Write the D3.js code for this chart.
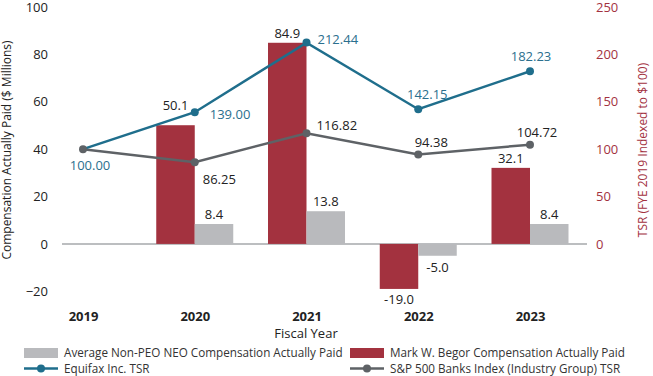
<!DOCTYPE html>
<html><head><meta charset="utf-8">
<script src="https://cdn.jsdelivr.net/npm/d3@7/dist/d3.min.js"></script>
<style>body{margin:0;background:#fff}svg{display:block;font-family:"Open Sans",sans-serif}</style>
</head><body><svg id="c" width="653" height="376"></svg>
<script>
const years = ["2019","2020","2021","2022","2023"];
const begorCAP = [null, 50.1, 84.9, -19.0, 32.1];
const neoCAP = [null, 8.4, 13.8, -5.0, 8.4];
const equifaxTSR = [100.00, 139.00, 212.44, 142.15, 182.23];
const banksTSR = [100.00, 86.25, 116.82, 94.38, 104.72];
const leftTicks = [-20, 0, 20, 40, 60, 80, 100];
const rightTicks = [0, 50, 100, 150, 200, 250];
// label placements (offsets from point)
const eqLabelPos = [[7,21,"middle"],[15,7,"start"],[11,1,"start"],[9,-10,"middle"],[1,-10,"middle"]];
const bkLabelPos = [null,[8,22,"start"],[10,-3.5,"start"],[13,-7,"middle"],[7,-8,"middle"]];

const RED="#a3323f", GREY="#b9babd", BLUE="#1f6e8c", DGREY="#5e6266", TXT="#222";
const svg=d3.select("#c");
const x=d3.scalePoint().domain(years).range([83,530]);
const yL=d3.scaleLinear().domain([-20,100]).range([291.3,7]);
const yR=d3.scaleLinear().domain([-50,250]).range([291.3,7]);
const bw=38.5;

// baseline
svg.append("line").attr("x1",62).attr("x2",587).attr("y1",yL(0)).attr("y2",yL(0)).attr("stroke","#a6a8ab").attr("stroke-width",1.5);

// bars
const bars=svg.append("g");
years.forEach((yr,i)=>{
  if(begorCAP[i]!=null){
    const v=begorCAP[i];
    bars.append("rect").attr("x",x(yr)-bw).attr("width",bw).attr("y",yL(Math.max(0,v))).attr("height",Math.abs(yL(v)-yL(0))).attr("fill",RED);
  }
  if(neoCAP[i]!=null){
    const v=neoCAP[i];
    bars.append("rect").attr("x",x(yr)).attr("width",bw).attr("y",yL(Math.max(0,v))).attr("height",Math.abs(yL(v)-yL(0))).attr("fill",GREY);
  }
});
// bar labels
const bl=svg.append("g").attr("font-size",13).attr("fill",TXT).attr("text-anchor","middle");
years.forEach((yr,i)=>{
  const v=begorCAP[i];
  if(v!=null){
    const extra = (i===1)?-10:0;
    bl.append("text").attr("x",x(yr)-bw/2).attr("y",v>=0?yL(v)-5+extra:yL(v)+15).text(v.toFixed(1));
  }
  const w=neoCAP[i];
  if(w!=null){
    bl.append("text").attr("x",x(yr)+bw/2).attr("y",w>=0?yL(w)-5:yL(w)+16).text(w.toFixed(1));
  }
});

// lines
const line=d3.line().x((d,i)=>x(years[i])).y(d=>yR(d));
svg.append("path").datum(banksTSR).attr("d",line).attr("fill","none").attr("stroke",DGREY).attr("stroke-width",2.5);
svg.append("path").datum(equifaxTSR).attr("d",line).attr("fill","none").attr("stroke",BLUE).attr("stroke-width",2.5);
svg.append("g").selectAll("circle").data(banksTSR).join("circle").attr("cx",(d,i)=>x(years[i])).attr("cy",d=>yR(d)).attr("r",4).attr("fill",DGREY);
svg.append("g").selectAll("circle").data(equifaxTSR.slice(1)).join("circle").attr("cx",(d,i)=>x(years[i+1])).attr("cy",d=>yR(d)).attr("r",4).attr("fill",BLUE);

// line labels
const ll=svg.append("g").attr("font-size",13);
equifaxTSR.forEach((v,i)=>{
  const p=eqLabelPos[i];
  ll.append("text").attr("x",x(years[i])+p[0]).attr("y",yR(v)+p[1]).attr("text-anchor",p[2]).attr("fill","#2b6f8e").text(v.toFixed(2));
});
banksTSR.forEach((v,i)=>{
  const p=bkLabelPos[i]; if(!p) return;
  ll.append("text").attr("x",x(years[i])+p[0]).attr("y",yR(v)+p[1]).attr("text-anchor",p[2]).attr("fill",TXT).text(v.toFixed(2));
});

// left axis
const la=svg.append("g").attr("transform","translate(48,0)").call(d3.axisLeft(yL).tickValues(leftTicks).tickSize(0).tickPadding(0));
la.select(".domain").remove();
la.selectAll("text").attr("font-size",13).attr("fill",TXT).attr("font-family","Open Sans");
// right axis
const ra=svg.append("g").attr("transform","translate(596,0)").call(d3.axisRight(yR).tickValues(rightTicks).tickSize(0).tickPadding(0));
ra.select(".domain").remove();
ra.selectAll("text").attr("font-size",13).attr("fill",RED).attr("font-family","Open Sans");
// x axis labels
const xa=svg.append("g").attr("transform","translate(0,318)").call(d3.axisBottom(x).tickSize(0).tickPadding(0));
xa.select(".domain").remove();
xa.selectAll("text").attr("font-size",13).attr("font-weight","bold").attr("fill",TXT).attr("font-family","Open Sans").attr("dy","0");
xa.selectAll("text").attr("y",0).attr("dominant-baseline","middle");

svg.append("text").attr("x",306).attr("y",338).attr("text-anchor","middle").attr("font-size",13).attr("fill",TXT).text("Fiscal Year");
svg.append("text").attr("transform","translate(11,150) rotate(-90)").attr("text-anchor","middle").attr("font-size",12).attr("fill",TXT).text("Compensation Actually Paid ($ Millions)");
svg.append("text").attr("transform","translate(647,150) rotate(-90)").attr("text-anchor","middle").attr("font-size",12).attr("fill",RED).text("TSR (FYE 2019 Indexed to $100)");

// legend
const lg=svg.append("g").attr("font-size",11.7).attr("fill","#333");
lg.append("rect").attr("x",24).attr("y",348).attr("width",34).attr("height",10).attr("fill",GREY);
lg.append("text").attr("x",64).attr("y",357).text("Average Non-PEO NEO Compensation Actually Paid");
lg.append("rect").attr("x",350).attr("y",348).attr("width",34).attr("height",10).attr("fill",RED);
lg.append("text").attr("x",390).attr("y",357).text("Mark W. Begor Compensation Actually Paid");
lg.append("line").attr("x1",24).attr("x2",58).attr("y1",368.5).attr("y2",368.5).attr("stroke",BLUE).attr("stroke-width",2.5);
lg.append("circle").attr("cx",41).attr("cy",368.5).attr("r",4).attr("fill",BLUE);
lg.append("text").attr("x",64).attr("y",373).text("Equifax Inc. TSR");
lg.append("line").attr("x1",350).attr("x2",384).attr("y1",368.5).attr("y2",368.5).attr("stroke",DGREY).attr("stroke-width",2.5);
lg.append("circle").attr("cx",367).attr("cy",368.5).attr("r",4).attr("fill",DGREY);
lg.append("text").attr("x",390).attr("y",373).text("S&P 500 Banks Index (Industry Group) TSR");
</script></body></html>
